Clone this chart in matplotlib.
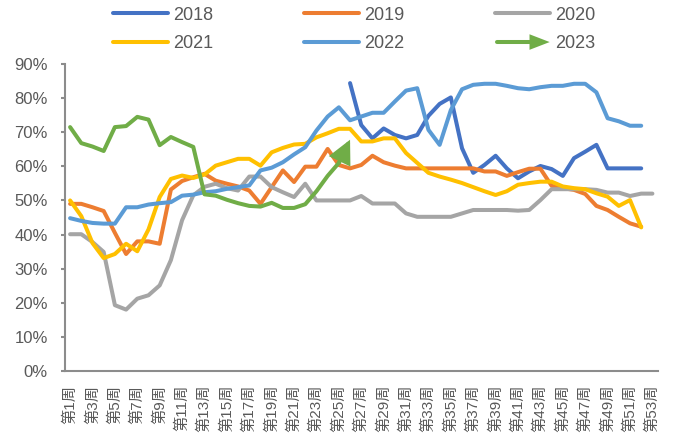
import numpy as np
import matplotlib
matplotlib.use("Agg")
import matplotlib.pyplot as plt
from matplotlib.lines import Line2D
from matplotlib.patches import Polygon
from matplotlib.legend_handler import HandlerBase

nan = np.nan

weeks = list(range(1, 54))
week_labels = [f"第{w}周" for w in weeks]

y2018 = [nan] * 25 + [84.4, 72.1, 68.2, 71.1, 69.2, 68.2, 69.2, 74.8, 78.3, 80.2,
                      65.3, 58.1, 60.4, 63.1, 59.4, 56.5, 58.5, 60.1, 59.2, 57.2,
                      62.4, 64.3, 66.3, 59.4, 59.4, 59.4, 59.4] + [nan]
y2019 = [49, 49, 48, 46.9, 40.5, 34.3, 38.0, 38.0, 37.3, 53.2,
         55.7, 56.8, 57.8, 55.8, 54.9, 54.1, 52.9, 49, 53.9, 58.8,
         55.4, 59.9, 59.9, 65.1, 60.4, 59.4, 60.4, 63.1, 61.2, 60.2,
         59.4, 59.4, 59.4, 59.4, 59.4, 59.4, 59.4, 58.5, 58.5, 57.2,
         58.3, 59.3, 59.3, 54.3, 53.6, 53.1, 51.9, 48.4, 47.2, 45.2,
         43.3, 42.3, nan]
y2020 = [40.1, 40.1, 37.8, 34.9, 19.3, 18.0, 21.2, 22.2, 25.1, 32.5,
         44.2, 51.5, 54.0, 54.9, 53.6, 52.9, 57, 57, 53.9, 52.4,
         51, 54.9, 50, 50, 50, 50, 51.3, 49.1, 49.1, 49.1,
         46.2, 45.2, 45.2, 45.2, 45.2, 46.2, 47.2, 47.2, 47.2, 47.2,
         47, 47.2, 50.1, 53.3, 53.3, 53.3, 53.3, 53.1, 52.3, 52.3,
         51.3, 52, 52]
y2021 = [50, 45.4, 37.5, 33.1, 34.3, 37.3, 35.1, 41.5, 51, 56.3,
         57.3, 56.6, 57.6, 60.2, 61.2, 62.2, 62.2, 60.2, 64.1, 65.4,
         66.4, 66.6, 68.5, 69.7, 71, 71, 67.3, 67.3, 68.2, 68.2,
         63.9, 61, 58.1, 57, 56.1, 55.1, 53.9, 52.7, 51.6, 52.7,
         54.6, 55.1, 55.5, 55.5, 54.1, 53.6, 53.3, 52.1, 51.1, 48.4,
         50.1, 42.1, nan]
y2022 = [44.8, 44, 43.4, 43.2, 43.2, 48, 48, 48.8, 49.2, 49.5,
         51.4, 51.7, 52.4, 52.7, 53.4, 53.9, 54.4, 58.8, 59.6, 61.2,
         63.5, 65.6, 70.5, 74.6, 77.3, 73.5, 74.6, 75.7, 75.7, 79,
         82.2, 82.9, 70.7, 66.3, 76.5, 82.6, 83.9, 84.2, 84.2, 83.6,
         82.9, 82.6, 83.2, 83.6, 83.6, 84.2, 84.2, 81.7, 74.1, 73.2,
         71.9, 71.9, nan]
y2023 = [71.5, 66.8, 65.8, 64.5, 71.5, 71.8, 74.5, 73.7, 66.2, 68.6,
         67.1, 65.7, 51.8, 51.4, 50.2, 49.2, 48.4, 48.2, 49.3, 47.8,
         47.8, 48.9, 52.7, 57.2, 61, 67.8] + [nan] * 27

series_names = ["2018", "2019", "2020", "2021", "2022", "2023"]
series_vals = [y2018, y2019, y2020, y2021, y2022, y2023]
colors = ["#4472C4", "#ED7D31", "#A5A5A5", "#FFC000", "#5B9BD5", "#70AD47"]

TXT = "#595959"
AX = "#8C8C8C"
LW = 2.9
lat = ["Liberation Sans", "Noto Sans CJK SC", "DejaVu Sans"]
plt.rcParams["font.family"] = lat

fig = plt.figure(figsize=(6.73, 4.47), dpi=100)
ax = fig.add_axes([64.5 / 673, 76 / 447, 593.5 / 673, 307 / 447])

x = np.array(weeks, dtype=float)
handles = {}
for name, vals, c in zip(series_names, series_vals, colors):
    v = np.array(vals, dtype=float)
    if name == "2023":
        n = int(np.sum(~np.isnan(v)))
        ln, = ax.plot(x[:n - 1], v[:n - 1], color=c, lw=LW,
                      solid_capstyle="round", solid_joinstyle="round")
        ax.annotate("", xy=(x[n - 1], v[n - 1]), xytext=(x[n - 2], v[n - 2]),
                    arrowprops=dict(arrowstyle="-|>,head_length=0.6,head_width=0.3",
                                    mutation_scale=21, lw=LW, color=c,
                                    shrinkA=0, shrinkB=0, capstyle="round",
                                    joinstyle="miter"))
    else:
        ln, = ax.plot(x, v, color=c, lw=LW,
                      solid_capstyle="round", solid_joinstyle="round")
    handles[name] = ln

ax.set_xlim(0.5, 53.5)
ax.set_ylim(0, 90)
ax.set_yticks(np.arange(0, 91, 10))
ax.set_yticklabels([f"{t}%" for t in range(0, 91, 10)], fontsize=12, color=TXT)
ax.set_xticks(weeks[::2])
ax.set_xticklabels(week_labels[::2], rotation=90, fontsize=11, color=TXT)

for s in ["top", "right"]:
    ax.spines[s].set_visible(False)
for s in ["left", "bottom"]:
    ax.spines[s].set_color(AX)
    ax.spines[s].set_linewidth(1.5)
ax.tick_params(axis="y", direction="out", length=3, width=1.5, color=AX, pad=9)
ax.tick_params(axis="x", length=0, pad=10)


class ArrowHandler(HandlerBase):
    def create_artists(self, legend, orig_handle, xdescent, ydescent,
                       width, height, fontsize, trans):
        y = height / 2 - ydescent
        x0 = -xdescent
        c = orig_handle.get_color()
        line = Line2D([x0 + 1.5, x0 + width - 12], [y, y], color=c, lw=LW,
                      solid_capstyle="round")
        tri = Polygon([[x0 + width - 14.5, y - 5.6], [x0 + width - 14.5, y + 5.6],
                       [x0 + width, y]], closed=True, color=c, lw=0)
        line.set_transform(trans)
        tri.set_transform(trans)
        return [line, tri]


order = ["2018", "2021", "2019", "2022", "2020", "2023"]
leg = fig.legend([handles[k] for k in order], order, loc="center",
                 bbox_to_anchor=(0.526, 0.934), ncol=3, frameon=False,
                 fontsize=13, handlelength=3.05, handletextpad=0.3,
                 columnspacing=5.0, labelspacing=0.65, borderpad=0,
                 handler_map={handles["2023"]: ArrowHandler()})
for t in leg.get_texts():
    t.set_color(TXT)

fig.savefig("out.png", dpi=100)
